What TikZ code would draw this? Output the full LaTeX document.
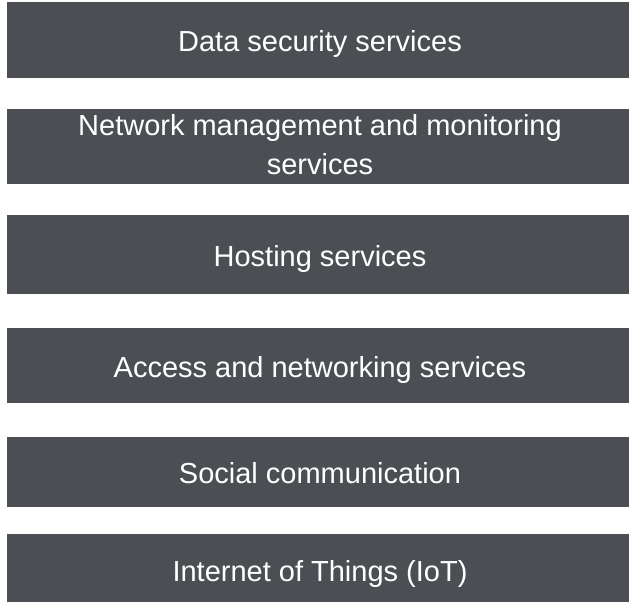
\documentclass[tikz,border=0pt]{standalone}
\usepackage{fontspec}
\setmainfont{Liberation Sans}
\definecolor{boxgray}{HTML}{4B4F54}
\tikzset{
  svcbox/.style={fill=boxgray, draw=none},
  svctext/.style={text=white, align=center, font=\fontsize{29}{39}\selectfont, inner sep=0pt}
}
\begin{document}
\begin{tikzpicture}[x=1pt,y=-1pt]
\useasboundingbox (0,0) rectangle (629,602);
\fill[svcbox] (7,2) rectangle (629,78);
\fill[svcbox] (7,109) rectangle (629,184);
\fill[svcbox] (7,215) rectangle (629,294);
\fill[svcbox] (7,328) rectangle (629,403);
\fill[svcbox] (7,437) rectangle (629,507);
\fill[svcbox] (7,534) rectangle (629,602);
\node[svctext, anchor=base] (t1) at (320,52) {Data security services};
\node[svctext, anchor=base] (t2) at (320,174) {Network management and monitoring\\services};
\node[svctext, anchor=base] (t3) at (320,266) {Hosting services};
\node[svctext, anchor=base] (t4) at (320,377) {Access and networking services};
\node[svctext, anchor=base] (t5) at (320,483) {Social communication};
\node[svctext, anchor=base] (t6) at (320,581) {Internet of Things (IoT)};
\end{tikzpicture}
\end{document}
